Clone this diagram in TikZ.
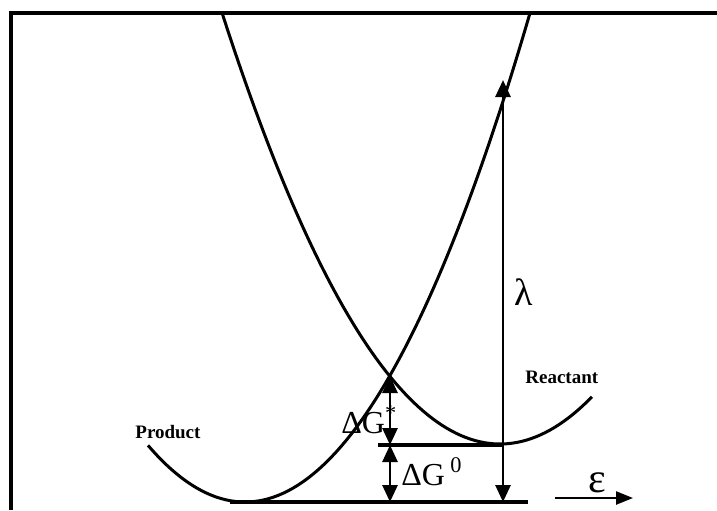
\documentclass[tikz,border=0pt]{standalone}
\usepackage{fontspec}
\setmainfont{Liberation Serif}
\usetikzlibrary{arrows.meta}
\tikzset{
  curve/.style={line width=1.5pt},
  rule/.style={line width=1.8pt},
  dimarrow/.style={line width=1.4pt,{Triangle[length=8.5pt,width=7.5pt]}-{Triangle[length=8.5pt,width=7.5pt]}},
  curvelabel/.style={inner sep=0pt,font=\fontsize{9.5}{11}\selectfont\bfseries},
  symlabel/.style={inner sep=0pt,font=\fontsize{16}{18}\selectfont}
}
\begin{document}
\begin{tikzpicture}[x=0.5pt,y=-0.5pt]
  \useasboundingbox (0,0) rectangle (717,510);
  \draw[line width=1.6pt] (11,510) -- (11,13) -- (717,13);
  % parabolas
  \draw[curve] plot[domain=148:530,samples=80] (\x,{502-(0.07759*(\x-245))^2});
  \draw[curve] plot[domain=222:592,samples=80] (\x,{444-(0.0747*(\x-500))^2});
  \coordinate (cross) at (390,376);
  \coordinate (midL) at (378,445);
  \coordinate (midR) at (503,445);
  \coordinate (botL) at (230,502);
  \coordinate (botR) at (528,502);
  \coordinate (gmid) at (390,445);
  \coordinate (gbot) at (390,502);
  \coordinate (lamB) at (503,502);
  \coordinate (lamT) at (503,80);
  \coordinate (epsL) at (555,498);
  \coordinate (epsR) at (633,498);
  \draw[rule] (midL) -- (midR);
  \draw[rule] (botL) -- (botR);
  \draw[dimarrow] (gmid) -- (cross);
  \draw[dimarrow] (gmid) -- (gbot);
  \draw[dimarrow] (lamB) -- (lamT);
  \draw[line width=1.2pt,-{Triangle[length=8.5pt,width=6.5pt]}] (epsL) -- (epsR);
  \node[curvelabel,anchor=base west] (prod) at (135,438) {Product};
  \node[curvelabel,anchor=base west] (reac) at (525,383) {Reactant};
  \node[symlabel,anchor=base west,font=\fontsize{19}{22}\selectfont] (lam) at (514,305) {λ};
  \node[symlabel,anchor=base west,font=\fontsize{21}{24}\selectfont] (eps) at (588,492) {ε};
  \node[symlabel,anchor=base west] (dgs) at (341,433) {ΔG\textsuperscript{*}};
  \node[symlabel,anchor=base west] (dgo) at (401,485) {ΔG\,\textsuperscript{0}};
\end{tikzpicture}
\end{document}
